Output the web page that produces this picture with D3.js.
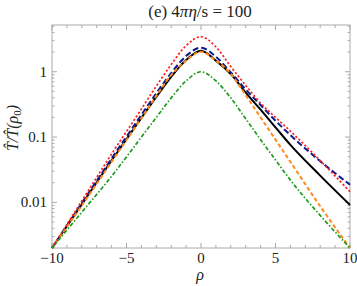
<!DOCTYPE html>
<html>
<head>
<meta charset="UTF-8">
<title>4 pi eta / s = 100</title>
<script src="https://cdn.jsdelivr.net/npm/d3@7"></script>
<style>
  body { margin: 0; background: #fff; }
  svg text { font-family: "Liberation Serif", "Times New Roman", "DejaVu Serif", serif; fill: #222; }
</style>
</head>
<body>
<svg id="chart" width="357" height="286"></svg>
<script>
// rho grid shared by all curves
var rho = [-10, -8, -6, -4, -3, -2, -1, 0, 1, 2, 3, 4, 5, 6, 8, 10];

// T-hat / T-hat(rho0)
var red    = [0.0020, 0.0105, 0.0550, 0.269, 0.603, 1.29, 2.51, 3.44, 2.40, 1.20, 0.617, 0.331, 0.200, 0.123, 0.0437, 0.0145];
var blue   = [0.0020, 0.00977, 0.0468, 0.219, 0.468, 0.955, 1.74, 2.34, 1.70, 0.977, 0.537, 0.309, 0.178, 0.107, 0.0427, 0.0186];
var black  = [0.0020, 0.00933, 0.0437, 0.197, 0.413, 0.838, 1.51, 2.10, 1.48, 0.923, 0.479, 0.263, 0.141, 0.0759, 0.0257, 0.00912];
var orange = [0.0020, 0.00891, 0.0417, 0.195, 0.427, 0.891, 1.48, 2.02, 1.48, 0.933, 0.437, 0.200, 0.0912, 0.0417, 0.00871, 0.0020];
var green  = [0.0020, 0.00708, 0.0251, 0.100, 0.200, 0.398, 0.724, 1.00, 0.724, 0.398, 0.191, 0.0912, 0.0447, 0.0219, 0.00631, 0.0020];

var xTicks = [-10, -5, 0, 5, 10];
var yTicks = [0.01, 0.1, 1];
var yTickLabels = ["0.01", "0.1", "1"];

var svg = d3.select("#chart");
// plot box (note: "top" is reserved on window, so use px*/py*)
var px0 = 52, px1 = 350, py0 = 25, py1 = 248;

var x = d3.scaleLinear().domain([-10, 10]).range([px0, px1]);
var y = d3.scaleLog().domain([0.002, 5.2]).range([py1, py0]);

// frame
svg.append("rect")
    .attr("x", px0).attr("y", py0)
    .attr("width", px1 - px0).attr("height", py1 - py0)
    .attr("fill", "none").attr("stroke", "#aaa").attr("stroke-width", 1);

// x ticks (minor every 1, major every 5), bottom and top, pointing inward
var ticks = svg.append("g").attr("stroke", "#aaa").attr("stroke-width", 1);
d3.range(-10, 11).forEach(function (v) {
    var len = v % 5 === 0 ? 5 : 3;
    ticks.append("line").attr("x1", x(v)).attr("x2", x(v)).attr("y1", py1).attr("y2", py1 - len);
    ticks.append("line").attr("x1", x(v)).attr("x2", x(v)).attr("y1", py0).attr("y2", py0 + len);
});

// y ticks on a log axis, left and right
var minor = [];
[0.001, 0.01, 0.1, 1].forEach(function (d) {
    for (var k = 2; k <= 9; k++) minor.push(d * k);
});
minor.filter(function (v) { return v >= 0.002 && v <= 5.2; }).forEach(function (v) {
    ticks.append("line").attr("x1", px0).attr("x2", px0 + 2.5).attr("y1", y(v)).attr("y2", y(v));
    ticks.append("line").attr("x1", px1).attr("x2", px1 - 2.5).attr("y1", y(v)).attr("y2", y(v));
});
yTicks.forEach(function (v) {
    ticks.append("line").attr("x1", px0).attr("x2", px0 + 5).attr("y1", y(v)).attr("y2", y(v));
    ticks.append("line").attr("x1", px1).attr("x2", px1 - 5).attr("y1", y(v)).attr("y2", y(v));
});

// tick labels
svg.selectAll(".xl").data(xTicks).enter().append("text")
    .attr("x", function (d) { return x(d); })
    .attr("y", py1 + 15)
    .attr("text-anchor", "middle")
    .attr("font-size", 15)
    .text(function (d) { return d < 0 ? "\u2212" + (-d) : d; });

svg.selectAll(".yl").data(yTicks).enter().append("text")
    .attr("x", px0 - 5)
    .attr("y", function (d) { return y(d) + 5; })
    .attr("text-anchor", "end")
    .attr("font-size", 15)
    .text(function (d, i) { return yTickLabels[i]; });

// curves
var series = [
    {vals: black,  color: "#000000", width: 2,   dash: null},
    {vals: blue,   color: "#0c1a8a", width: 2,   dash: "6,3"},
    {vals: orange, color: "#ff8a1c", width: 2,   dash: "4,2.5"},
    {vals: red,    color: "#ff2020", width: 1.7, dash: "2.2,2"},
    {vals: green,  color: "#1e9a1e", width: 1.7, dash: "4,2,1.5,2"}
];

var line = d3.line()
    .x(function (d) { return x(d[0]); })
    .y(function (d) { return y(d[1]); })
    .curve(d3.curveMonotoneX);

series.forEach(function (s) {
    svg.append("path")
        .datum(rho.map(function (r, i) { return [r, s.vals[i]]; }))
        .attr("d", line)
        .attr("fill", "none")
        .attr("stroke", s.color)
        .attr("stroke-width", s.width)
        .attr("stroke-dasharray", s.dash);
});

// title and axis labels
svg.append("text")
    .attr("x", 200).attr("y", 17)
    .attr("text-anchor", "middle")
    .attr("font-size", 17)
    .html('(e) 4<tspan font-style="italic">&#960;&#951;</tspan>/s = 100');

svg.append("text")
    .attr("x", 200).attr("y", 280)
    .attr("text-anchor", "middle")
    .attr("font-size", 16)
    .attr("font-style", "italic")
    .text("\u03c1");

svg.append("text")
    .attr("transform", "translate(18,128) rotate(-90)")
    .attr("text-anchor", "middle")
    .attr("font-size", 16)
    .attr("font-style", "italic")
    .html('T&#770;/T&#770;(&#961;<tspan font-size="11" dy="3" font-style="normal">0</tspan><tspan dy="-3">)</tspan>');
</script>
</body>
</html>
